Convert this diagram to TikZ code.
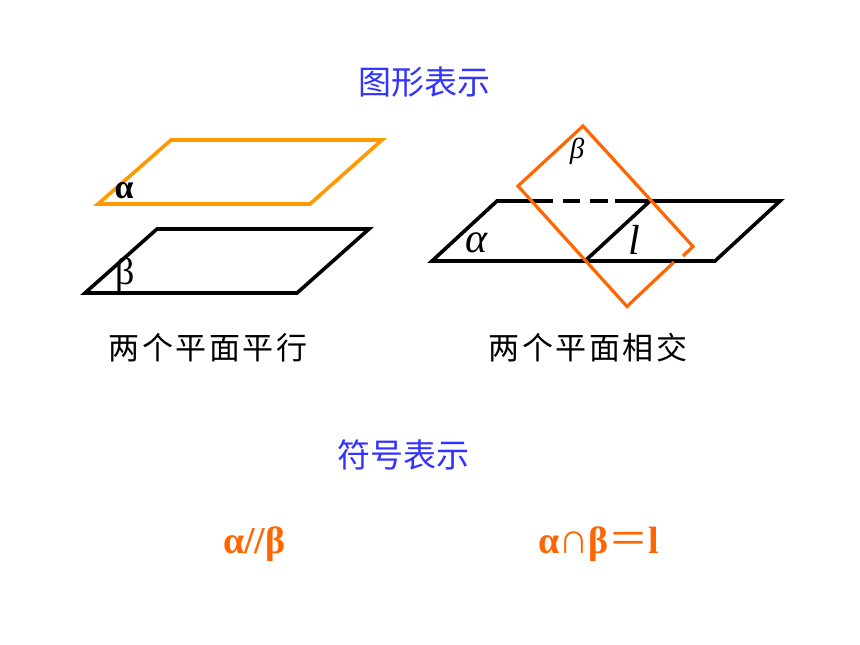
\documentclass[tikz,border=0pt]{standalone}
\usepackage{fontspec}
\setmainfont{Liberation Serif}
\newfontfamily\cjk{Noto Sans CJK SC}
\definecolor{bluetxt}{HTML}{3333FF}
\definecolor{orgA}{HTML}{FF9900}
\definecolor{orgB}{HTML}{FF6600}
\tikzset{
  x=1pt,y=-1pt,
  plane/.style={line width=3.6pt,line join=miter,miter limit=3},
  head/.style={inner sep=0pt,text=bluetxt,font=\cjk\fontsize{33}{33}\selectfont},
  capt/.style={inner sep=0pt,font=\cjk\fontsize{31}{31}\selectfont},
  rel/.style={inner sep=0pt,text=orgB,font=\bfseries\fontsize{38}{38}\selectfont,anchor=base west},
  lab/.style={inner sep=0pt,text=black}
}
\begin{document}
\begin{tikzpicture}
\useasboundingbox (0,0) rectangle (860,645);
\fill[white] (0,0) rectangle (860,645);
% parallel planes
\draw[plane,orgA] (98,204) -- (171,140) -- (382,140) -- (310,204) -- cycle;
\draw[plane,black] (85,293) -- (157,229) -- (369,229) -- (297,293) -- cycle;
\node[lab,font=\bfseries\fontsize{34}{34}\selectfont] (la) at (124,191) {α};
\node[lab,font=\fontsize{38}{38}\selectfont] (lb) at (125,275) {β};
% intersecting planes
\draw[plane,black,line cap=butt] (539,201) -- (497,201) -- (432,261) -- (715,261) -- (780,201) -- (650,201) -- (585,261);
\draw[plane,black] (539,201) -- (553,201) (563,201) -- (580,201) (590,201) -- (608,201) (615,201) -- (650,201);
\draw[plane,orgB,line width=3.2pt] (674,262) -- (627,306.5) -- (518,186) -- (583,126) -- (693,246.5) -- (683,256);
\node[lab,font=\itshape\fontsize{42}{42}\selectfont] (ra) at (477,243) {α};
\node[lab,font=\itshape\fontsize{42}{42}\selectfont] (rl) at (634,240) {l};
\node[lab,font=\itshape\fontsize{29}{29}\selectfont] (rb) at (577,151) {β};
% captions
\node[head] (h1) at (424,82) {图形表示};
\node[capt] (c1) at (208,348) {两\kern2.6pt 个\kern2.6pt 平\kern2.6pt 面\kern2.6pt 平\kern2.6pt 行};
\node[capt] (c2) at (588,348) {两\kern2.6pt 个\kern2.6pt 平\kern2.6pt 面\kern2.6pt 相\kern2.6pt 交};
\node[head] (h2) at (403,455) {符号表示};
\node[rel] (r1) at (223,553) {α//β};
\node[rel] (r2) at (538,553) {α{\cjk\mdseries\fontsize{29}{29}\selectfont ∩}β{\cjk\mdseries\fontsize{40}{40}\selectfont ＝}l};
\end{tikzpicture}
\end{document}
